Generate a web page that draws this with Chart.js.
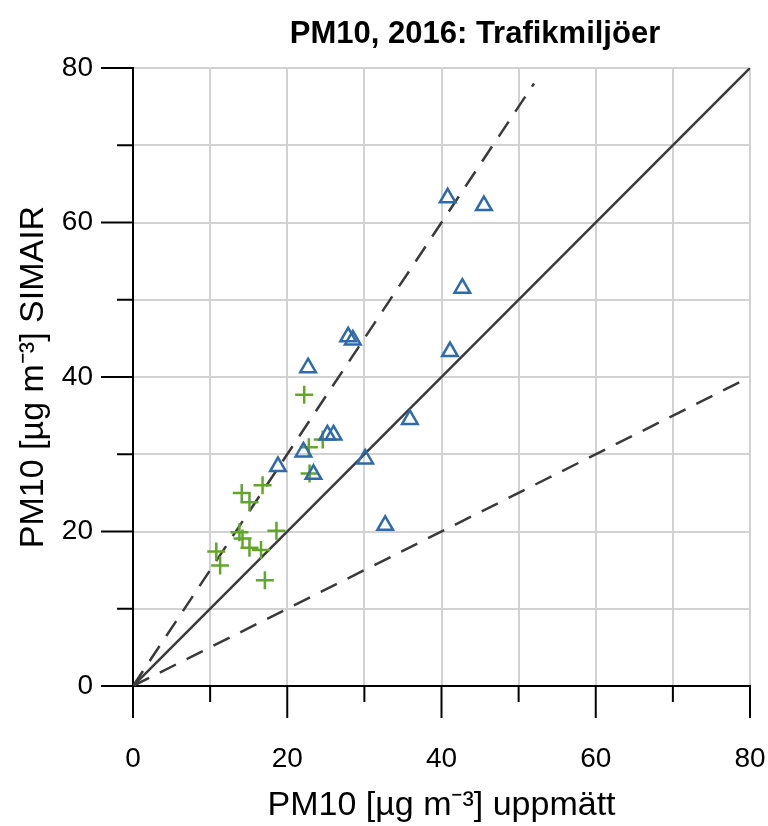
<!DOCTYPE html>
<html>
<head>
<meta charset="utf-8">
<script src="https://cdn.jsdelivr.net/npm/chart.js@4.4.1/dist/chart.umd.min.js"></script>
<style>
  body { margin: 0; background: #fff; }
  #wrap { width: 768px; height: 826px; }
</style>
</head>
<body>
<div id="wrap"><canvas id="chart" width="768" height="826"></canvas></div>
<script>
// data
const triX = [40.8, 45.5, 42.7, 27.9, 28.5, 41.1, 22.7, 35.9, 25.2, 26.0, 30.1, 22.1, 23.4, 18.8, 32.7];
const triY = [63.2, 62.2, 51.5, 45.2, 44.8, 43.3, 41.2, 34.5, 32.5, 32.5, 29.4, 30.3, 27.4, 28.4, 20.8];
const crossX = [22.2, 22.8, 24.6, 22.9, 16.8, 14.1, 15.1, 18.6, 13.8, 14.2, 15.1, 16.6, 10.8, 11.3, 17.1];
const crossY = [37.7, 30.9, 31.9, 27.5, 26.0, 25.0, 23.8, 20.1, 19.9, 19.1, 17.9, 17.6, 17.4, 15.6, 13.7];

// reference lines 1:1, 1.5:1 and 0.5:1
const lineOne = [[0, 0], [80, 80]];
const lineUpper = [[0, 0], [52, 78]];
const lineLower = [[0, 0], [80, 40]];

const axisMin = 0, axisMax = 80, tickStep = 10, labelStep = 20;

const blue = "#2f6aab";
const green = "#62a62c";
const dark = "#3a3a3a";
const fontFam = "'Liberation Sans', Arial, sans-serif";

const toPts = (xs, ys) => xs.map((x, i) => ({ x: x, y: ys[i] }));
const toLine = arr => arr.map(p => ({ x: p[0], y: p[1] }));

// tick marks outside the axes, long at labelled ticks
const tickMarks = {
  id: "tickMarks",
  afterDraw(chart) {
    const ctx = chart.ctx;
    const xs = chart.scales.x, ys = chart.scales.y;
    const x0 = xs.getPixelForValue(0), y0 = ys.getPixelForValue(0);
    ctx.save();
    ctx.strokeStyle = "#000";
    ctx.lineWidth = 2;
    for (let v = axisMin; v <= axisMax; v += tickStep) {
      const len = v % labelStep === 0 ? 32 : 16;
      const px = xs.getPixelForValue(v);
      const py = ys.getPixelForValue(v);
      ctx.beginPath();
      ctx.moveTo(px, y0);
      ctx.lineTo(px, y0 + len);
      ctx.moveTo(x0, py);
      ctx.lineTo(x0 - len, py);
      ctx.stroke();
    }
    // title, a bit right of the plot centre as in the original
    ctx.fillStyle = "#000";
    ctx.font = "bold 31px " + fontFam;
    ctx.textAlign = "center";
    ctx.textBaseline = "middle";
    ctx.fillText("PM10, 2016: Trafikmiljöer", 475, 34);
    ctx.restore();
  }
};

new Chart(document.getElementById("chart"), {
  type: "scatter",
  data: {
    datasets: [
      {
        type: "line", data: toLine(lineOne), borderColor: dark, borderWidth: 2.5,
        pointRadius: 0, fill: false, order: 2
      },
      {
        type: "line", data: toLine(lineUpper), borderColor: dark, borderWidth: 2.5,
        borderDash: [18, 12], pointRadius: 0, fill: false, order: 2
      },
      {
        type: "line", data: toLine(lineLower), borderColor: dark, borderWidth: 2.5,
        borderDash: [18, 12], pointRadius: 0, fill: false, order: 2
      },
      {
        data: toPts(triX, triY), pointStyle: "triangle", pointRadius: 9,
        borderColor: blue, backgroundColor: "rgba(0,0,0,0)", pointBorderWidth: 2.5, order: 1
      },
      {
        data: toPts(crossX, crossY), pointStyle: "cross", pointRadius: 9,
        borderColor: green, backgroundColor: green, pointBorderWidth: 2.5, order: 1
      }
    ]
  },
  options: {
    responsive: false,
    animation: false,
    layout: { padding: { top: 68, right: 18, left: 0, bottom: 0 } },
    plugins: { legend: { display: false }, tooltip: { enabled: false }, title: { display: false } },
    scales: {
      x: {
        type: "linear", min: axisMin, max: axisMax,
        afterFit: s => { s.height = 140; },
        ticks: {
          stepSize: tickStep, padding: 0, maxRotation: 0,
          color: "#000", font: { family: fontFam, size: 28 },
          callback: v => (v % labelStep === 0 ? v : "")
        },
        grid: {
          color: "#d2d2d2", lineWidth: 2, drawTicks: true,
          tickLength: 56, tickColor: "rgba(0,0,0,0)"
        },
        border: { display: true, color: "#000", width: 2 },
        title: {
          display: true, text: "PM10 [µg m⁻³] uppmätt", color: "#000",
          font: { family: fontFam, size: 34 }, padding: { top: 0, bottom: 0 }
        }
      },
      y: {
        type: "linear", min: axisMin, max: axisMax,
        afterFit: s => { s.width = 133; },
        ticks: {
          stepSize: tickStep, padding: 0,
          color: "#000", font: { family: fontFam, size: 28 },
          callback: v => (v % labelStep === 0 ? v : "")
        },
        grid: {
          color: "#d2d2d2", lineWidth: 2, drawTicks: true,
          tickLength: 40, tickColor: "rgba(0,0,0,0)"
        },
        border: { display: true, color: "#000", width: 2 },
        title: {
          display: true, text: "PM10 [µg m⁻³] SIMAIR", color: "#000",
          font: { family: fontFam, size: 34 }, padding: { top: 13, bottom: 0 }
        }
      }
    }
  },
  plugins: [tickMarks]
});
</script>
</body>
</html>
